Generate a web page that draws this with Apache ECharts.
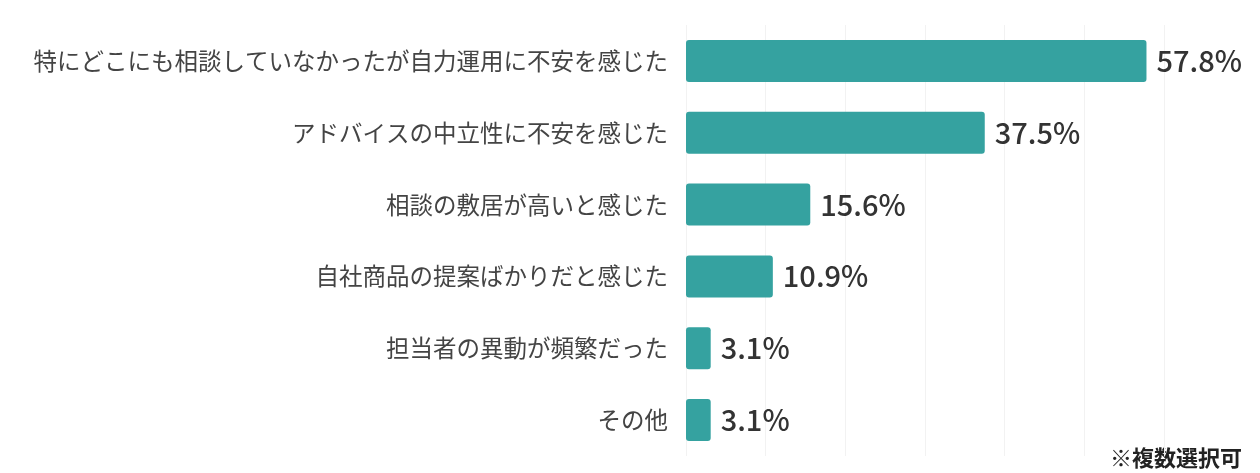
<!DOCTYPE html>
<html>
<head>
<meta charset="utf-8">
<script src="https://cdn.jsdelivr.net/npm/echarts@6/dist/echarts.min.js"></script>
<style>html,body{margin:0;padding:0;background:#fff}#c{width:1260px;height:473px}</style>
</head>
<body>
<div id="c"></div>
<script>
// 項目と割合（上から順に）
const categories = [
    '特にどこにも相談していなかったが自力運用に不安を感じた',
    'アドバイスの中立性に不安を感じた',
    '相談の敷居が高いと感じた',
    '自社商品の提案ばかりだと感じた',
    '担当者の異動が頻繁だった',
    'その他'
];
const values = [57.8, 37.5, 15.6, 10.9, 3.1, 3.1];

const chart = echarts.init(document.getElementById('c'));
chart.setOption({
    animation: false,
    grid: {left: 686, right: 96, top: 25, bottom: 17},
    xAxis: {
        type: 'value', min: 0, max: 60, interval: 10,
        axisLabel: {show: false}, axisLine: {show: false}, axisTick: {show: false},
        splitLine: {lineStyle: {color: '#f2f2f2'}}
    },
    yAxis: {
        type: 'category', inverse: true, data: categories,
        axisLine: {show: false}, axisTick: {show: false},
        axisLabel: {
            margin: 18, fontSize: 23.5, color: '#444',
            fontFamily: 'Noto Sans CJK JP'
        }
    },
    series: [{
        type: 'bar', data: values, barWidth: 42,
        itemStyle: {color: '#35a2a0', borderRadius: 3},
        label: {
            show: true, position: 'right', distance: 10,
            formatter: p => p.value.toFixed(1) + '%',
            fontSize: 29, fontWeight: 500, color: '#333',
            fontFamily: 'Noto Sans CJK JP'
        }
    }],
    graphic: [{
        type: 'text', right: 18, bottom: 4,
        style: {text: '※複数選択可', fontSize: 22, fontWeight: 'bold', fill: '#222', fontFamily: 'Noto Sans CJK JP'}
    }]
});
</script>
</body>
</html>
